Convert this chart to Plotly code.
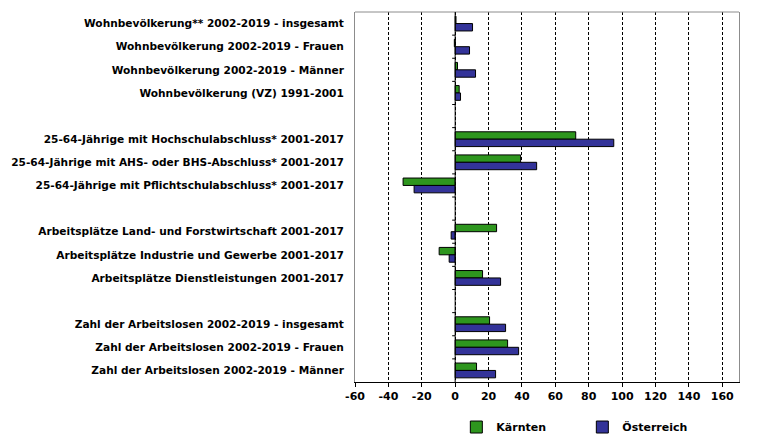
import plotly.graph_objects as go

categories = [
    "Wohnbevölkerung** 2002-2019 - insgesamt",
    "Wohnbevölkerung 2002-2019 - Frauen",
    "Wohnbevölkerung 2002-2019 - Männer",
    "Wohnbevölkerung (VZ) 1991-2001",
    " ",
    "25-64-Jährige mit Hochschulabschluss* 2001-2017",
    "25-64-Jährige mit AHS- oder BHS-Abschluss* 2001-2017",
    "25-64-Jährige mit Pflichtschulabschluss* 2001-2017",
    "  ",
    "Arbeitsplätze Land- und Forstwirtschaft 2001-2017",
    "Arbeitsplätze Industrie und Gewerbe 2001-2017",
    "Arbeitsplätze Dienstleistungen 2001-2017",
    "   ",
    "Zahl der Arbeitslosen 2002-2019 - insgesamt",
    "Zahl der Arbeitslosen 2002-2019 - Frauen",
    "Zahl der Arbeitslosen 2002-2019 - Männer",
]
kaernten = [0.5, -0.5, 1.4, 2.4, None, 72.2, 39.2, -31.2, None, 24.8, -9.6, 16.4, None, 20.6, 31.4, 12.8]
oesterreich = [10.4, 8.6, 12.2, 3.2, None, 95.0, 48.8, -24.6, None, -2.4, -3.6, 27.2, None, 30.2, 38.0, 24.2]
x_ticks = list(range(-60, 161, 20))
x_ticklabels = [str(v) for v in x_ticks]

GREEN = "#2E961E"
BLUE = "#333399"

fig = go.Figure()
fig.add_trace(go.Bar(y=categories, x=kaernten, orientation="h", name="Kärnten",
                     marker=dict(color=GREEN, line=dict(color="black", width=1))))
fig.add_trace(go.Bar(y=categories, x=oesterreich, orientation="h", name="Österreich",
                     marker=dict(color=BLUE, line=dict(color="black", width=1))))

# small category tick marks on the zero axis
shapes = []
for i in range(1, len(categories)):
    shapes.append(dict(type="line", xref="x", yref="y", x0=-1.8, x1=0,
                       y0=i - 0.5, y1=i - 0.5, line=dict(color="black", width=1)))
# grey top border
shapes.append(dict(type="line", xref="paper", yref="paper", x0=0, x1=1, y0=1, y1=1,
                   line=dict(color="#8c8c8c", width=1)))
# zero axis line
shapes.append(dict(type="line", xref="x", yref="paper", x0=0, x1=0, y0=0, y1=1,
                   line=dict(color="black", width=1)))

fig.update_layout(
    width=777, height=442,
    margin=dict(l=347, r=46, t=4, b=68, autoexpand=False),
    paper_bgcolor="white", plot_bgcolor="white",
    font=dict(family="DejaVu Sans", size=11, color="black", weight="bold"),
    barmode="group", bargap=0.36, bargroupgap=0,
    shapes=shapes,
    showlegend=True,
    legend=dict(orientation="h", xref="container", yref="container",
                x=0.577, y=0.052, xanchor="left", yanchor="middle",
                traceorder="normal", entrywidth=81, entrywidthmode="pixels",
                font=dict(size=11), bgcolor="rgba(0,0,0,0)"),
)
fig.update_xaxes(range=[-60, 170], tickvals=x_ticks, ticktext=x_ticklabels,
                 ticks="outside", ticklen=4, automargin=False,
                 tickcolor="black", showline=True, linecolor="black", linewidth=1,
                 showgrid=True, gridcolor="black", griddash="3px,2px", gridwidth=1,
                 zeroline=False, fixedrange=True)
fig.update_yaxes(type="category", categoryorder="array", categoryarray=categories,
                 autorange="reversed", showline=True, linecolor="#8c8c8c", mirror=True,
                 ticks="", showgrid=False, zeroline=False, ticklabelstandoff=8,
                 tickfont=dict(size=10.6), automargin=False)

fig.write_html("out.html")
